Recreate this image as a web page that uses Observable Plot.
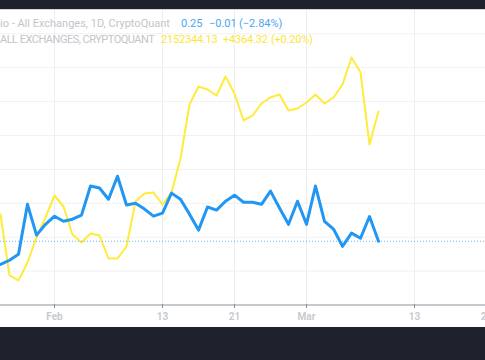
<!DOCTYPE html>
<html>
<head>
<meta charset="utf-8">
<script src="https://cdn.jsdelivr.net/npm/d3@7"></script>
<script src="https://cdn.jsdelivr.net/npm/@observablehq/plot@0.6"></script>
<style>
  html, body { margin: 0; padding: 0; background: #1e222d; width: 485px; height: 360px; overflow: hidden; }
  #panel { position: absolute; left: 0; top: 9px; width: 485px; height: 318px; background: #ffffff; overflow: hidden; border-top: 1px solid #d6d6d6; box-sizing: border-box; }
  #panel svg { position: absolute; left: 0; top: -1px; background: transparent; overflow: visible; }
  .lg { position: absolute; font-family: Roboto, "Liberation Sans", sans-serif; font-size: 11px; white-space: nowrap; line-height: 12px; }
  .gray { color: #c3c5ca; }
  .caps { letter-spacing: -0.5px; }
  .num { letter-spacing: -0.2px; }
  .blue { color: #4aa6f2; }
  .yel { color: #fde63a; }
</style>
</head>
<body>
<div id="panel"></div>
<script>
// ---- data ----
const dates = [
  "2023-01-26","2023-01-27","2023-01-28","2023-01-29","2023-01-30","2023-01-31",
  "2023-02-01","2023-02-02","2023-02-03","2023-02-04","2023-02-05","2023-02-06","2023-02-07",
  "2023-02-08","2023-02-09","2023-02-10","2023-02-11","2023-02-12","2023-02-13","2023-02-14",
  "2023-02-15","2023-02-16","2023-02-17","2023-02-18","2023-02-19","2023-02-20","2023-02-21",
  "2023-02-22","2023-02-23","2023-02-24","2023-02-25","2023-02-26","2023-02-27","2023-02-28",
  "2023-03-01","2023-03-02","2023-03-03","2023-03-04","2023-03-05","2023-03-06","2023-03-07",
  "2023-03-08","2023-03-09"
];
// Ratio (blue, main scale)
const ratio = [
  0.2420, 0.2432, 0.2450, 0.2597, 0.2506, 0.2538,
  0.2562, 0.2547, 0.2553, 0.2565, 0.2651, 0.2645, 0.2612,
  0.2680, 0.2595, 0.2600, 0.2583, 0.2562, 0.2571, 0.2630,
  0.2612, 0.2568, 0.2521, 0.2589, 0.2580, 0.2606, 0.2624,
  0.2603, 0.2603, 0.2597, 0.2636, 0.2586, 0.2538, 0.2606,
  0.2538, 0.2651, 0.2547, 0.2524, 0.2473, 0.2512, 0.2497,
  0.2561, 0.2488
];
// Reserve (yellow, own scale)
const reserve = [
  2138722, 2130655, 2129994, 2132374, 2135680, 2138325,
  2141235, 2139780, 2136077, 2135019, 2136209, 2135945, 2132903,
  2132903, 2134490, 2140441, 2141499, 2141632, 2140045, 2141632,
  2146128, 2153270, 2155650, 2155254, 2154460, 2156973, 2154725,
  2151154, 2151815, 2153402, 2154196, 2154592, 2152476, 2152741,
  2153534, 2154592, 2153402, 2154196, 2155915, 2159486, 2157502,
  2147979.81, 2152344.13
];
const gridValues = [0.24, 0.25, 0.26, 0.27, 0.28, 0.29, 0.30, 0.31];
const tickDates = ["2023-02-01","2023-02-13","2023-02-21","2023-03-01","2023-03-13","2023-03-21"];
const tickLabels = ["Feb","13","21","Mar","13","21"];

const parse = d3.utcParse("%Y-%m-%d");
const blueData = dates.map((d, i) => ({date: parse(d), value: ratio[i]}));
const yellowData = dates.map((d, i) => ({date: parse(d), value: reserve[i]}));
const ticks = tickDates.map(parse);
const labelOf = new Map(ticks.map((t, i) => [+t, tickLabels[i]]));

const W = 485, H = 319;
const xOpt = {type: "utc", domain: [parse("2023-01-26"), parse("2023-03-21")], range: [0, 486]};
const common = {width: W, height: H, marginLeft: 0, marginRight: 0, marginTop: 0, marginBottom: 24,
  style: {background: "transparent", overflow: "visible"}};

// base: grid + axis
const base = Plot.plot({
  ...common,
  x: {...xOpt, axis: null},
  y: {domain: [0.23, 0.31], range: [295.5, 24.3], axis: null},
  marks: [
    Plot.ruleY(gridValues, {stroke: "#f0f1f3", strokeWidth: 1}),
    Plot.ruleX(ticks, {stroke: "#eceef1", strokeWidth: 1}),
    Plot.ruleY([0.23], {stroke: "#b4b6bb", strokeWidth: 1.5}),
    Plot.axisX(ticks, {anchor: "bottom", tickSize: 4, tickPadding: 4, stroke: "#8a8d94",
      tickFormat: d => labelOf.get(+d), fill: "#c8cacf", fontSize: 10, fontWeight: "bold",
      fontFamily: "Roboto, 'Liberation Sans', sans-serif"})
  ]
});

// yellow line, own scale
const yel = Plot.plot({
  ...common,
  x: {...xOpt, axis: null},
  y: {domain: [2147979.81, 2152344.13], range: [135, 102], axis: null},
  marks: [
    Plot.lineY(yellowData, {x: "date", y: "value", stroke: "#ffeb3b", strokeWidth: 2, curve: "linear"})
  ]
});

// blue line, main scale
const blue = Plot.plot({
  ...common,
  x: {...xOpt, axis: null},
  y: {domain: [0.23, 0.31], range: [295.5, 24.3], axis: null},
  marks: [
    Plot.ruleY([ratio[ratio.length - 1]], {stroke: "#64b5f6", strokeWidth: 1, strokeDasharray: "1,2"}),
    Plot.lineY(blueData, {x: "date", y: "value", stroke: "#2196f3", strokeWidth: 3, curve: "linear"})
  ]
});

const panel = document.getElementById("panel");
panel.appendChild(base);
panel.appendChild(yel);
panel.appendChild(blue);

// legend text
const legend = [
  {t: "io - All Exchanges, 1D, CryptoQuant", c: "gray", x: 0, y: 8},
  {t: "0.25", c: "blue", x: 181, y: 8},
  {t: "\u22120.01", c: "blue", x: 209, y: 8},
  {t: "(\u22122.84%)", c: "blue", x: 239, y: 8},
  {t: "ALL EXCHANGES, CRYPTOQUANT", c: "gray caps", x: 0, y: 24},
  {t: "2152344.13", c: "yel num", x: 161, y: 24},
  {t: "+4364.32", c: "yel num", x: 223, y: 24},
  {t: "(+0.20%)", c: "yel num", x: 271, y: 24}
];
legend.forEach(l => {
  const s = document.createElement("div");
  s.className = "lg " + l.c;
  s.textContent = l.t;
  s.style.left = l.x + "px";
  s.style.top = l.y + "px";
  panel.appendChild(s);
});
</script>
</body>
</html>
